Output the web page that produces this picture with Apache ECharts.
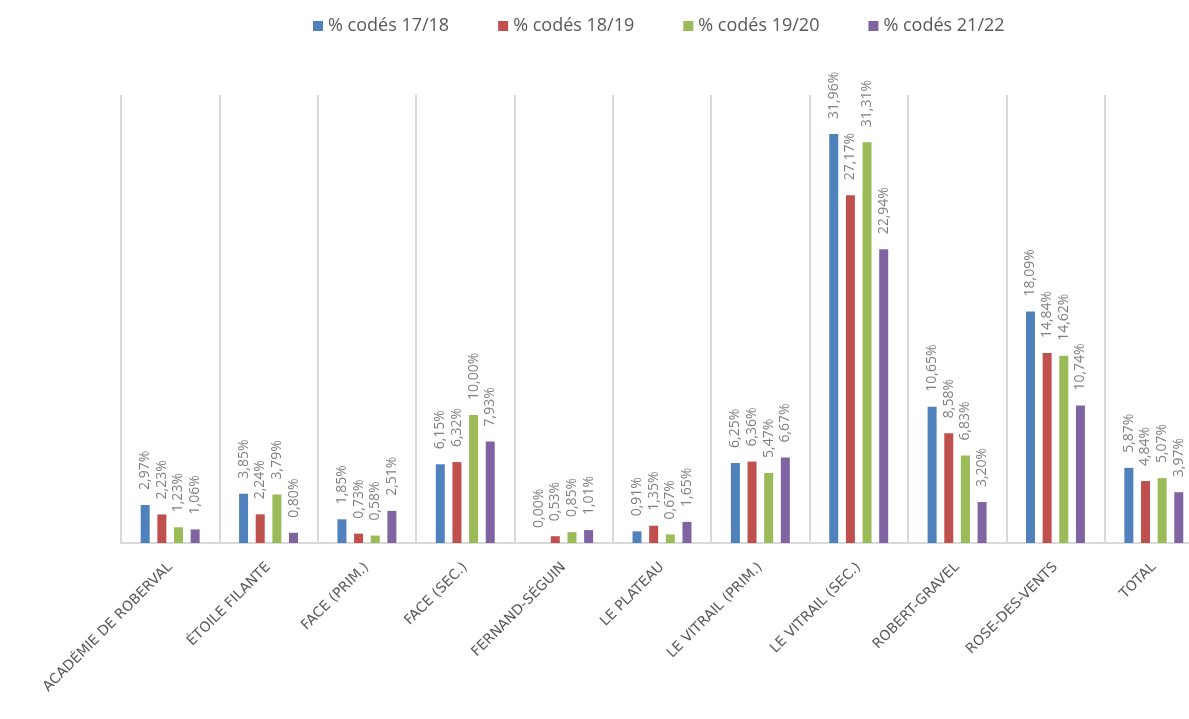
<!DOCTYPE html>
<html><head><meta charset="utf-8">
<script src="https://cdn.jsdelivr.net/npm/echarts@6/dist/echarts.min.js"></script>
<style>html,body{margin:0;padding:0;background:#fff}#c{width:1189px;height:719px}</style>
</head><body><div id="c"></div>
<script>
const categories = ["ACADÉMIE DE ROBERVAL","ÉTOILE FILANTE","FACE (PRIM.)","FACE (SEC.)","FERNAND-SÉGUIN","LE PLATEAU","LE VITRAIL (PRIM.)","LE VITRAIL (SEC.)","ROBERT-GRAVEL","ROSE-DES-VENTS","TOTAL"];
const seriesNames = ["% codés 17/18","% codés 18/19","% codés 19/20","% codés 21/22"];
const v1718 = [2.97,3.85,1.85,6.15,0.00,0.91,6.25,31.96,10.65,18.09,5.87];
const v1819 = [2.23,2.24,0.73,6.32,0.53,1.35,6.36,27.17,8.58,14.84,4.84];
const v1920 = [1.23,3.79,0.58,10.00,0.85,0.67,5.47,31.31,6.83,14.62,5.07];
const v2122 = [1.06,0.80,2.51,7.93,1.01,1.65,6.67,22.94,3.20,10.74,3.97];
const colors = ["#4F81BD","#C0504D","#9BBB59","#8064A2"];
const values = [v1718,v1819,v1920,v2122];

const chart = echarts.init(document.getElementById('c'));
chart.setOption({
  animation:false,
  color: colors,
  legend:{top:12,left:308,itemWidth:10,itemHeight:10,itemGap:49,icon:'rect',
    textStyle:{fontSize:18,color:'#595959',fontFamily:'Open Sans'},data:seriesNames},
  grid:{left:121,width:1082,top:95,height:448,outerBoundsMode:'none',containLabel:false},
  xAxis:{type:'category',data:categories,
    axisLine:{show:true,lineStyle:{color:'#d9d9d9',width:2}},
    axisTick:{show:false},
    splitLine:{show:true,lineStyle:{color:'#d9d9d9',width:2}},
    axisLabel:{rotate:45,interval:0,margin:22,fontSize:14,color:'#595959',fontFamily:'DejaVu Sans'}},
  yAxis:{type:'value',min:0,max:35,show:false,splitLine:{show:false}},
  series: values.map((d,i)=>({
    name:seriesNames[i],type:'bar',data:d,barWidth:9,barGap:'85%',
    label:{show:true,position:'top',rotate:90,align:'left',verticalAlign:'middle',distance:15,
      fontSize:14,color:'#7f7f7f',fontFamily:'Open Sans',
      formatter:p=>p.value.toFixed(2).replace('.',',')+'%'}
  }))
});
</script></body></html>
